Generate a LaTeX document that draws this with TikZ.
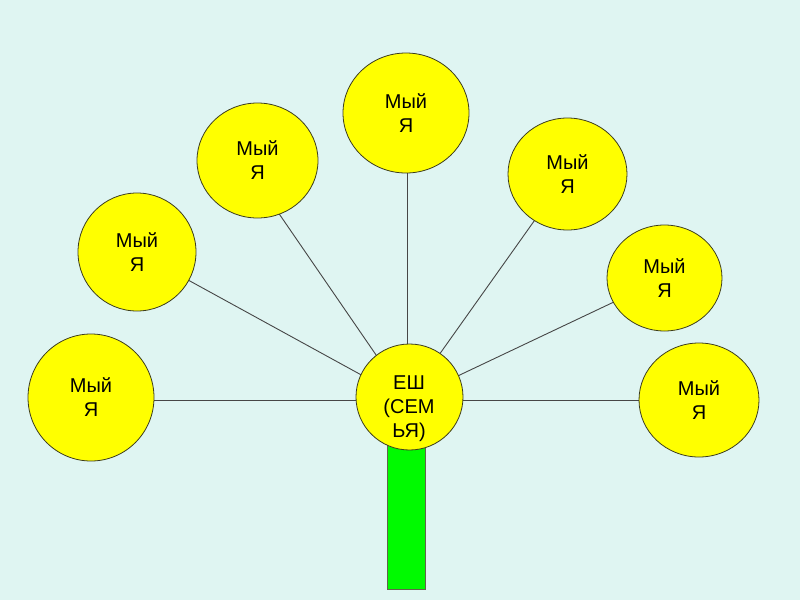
\documentclass[tikz,border=0pt]{standalone}
\usepackage{fontspec}
\setmainfont{Liberation Sans}
\usetikzlibrary{shapes.geometric,backgrounds}
\definecolor{bgc}{RGB}{223,245,242}
\definecolor{petal}{RGB}{255,255,0}
\definecolor{stemc}{RGB}{0,250,0}
\definecolor{linec}{RGB}{70,70,70}
\definecolor{edgec}{RGB}{60,60,30}
\tikzset{
  petalnode/.style={ellipse, draw=edgec, line width=0.8pt, fill=petal, inner sep=0pt, align=center, font=\fontsize{20}{24}\selectfont},
  conn/.style={draw=linec, line width=0.9pt},
  txt/.style={align=center, inner sep=0pt, font=\fontsize{20}{24}\selectfont}
}
\begin{document}
\begin{tikzpicture}[x=1pt,y=-1pt]
\useasboundingbox (0,0) rectangle (800,600);
% centre
\node[petalnode, minimum width=107pt, minimum height=106pt] (c) at (409.5,397) {};
\node[txt] (ct) at (409,409) {ЕШ\\(СЕМ\\ЬЯ)};
% petals
\node[petalnode, minimum width=126pt, minimum height=127pt] (m1) at (91,397.5) {Мый\\Я};
\node[petalnode, minimum width=118pt, minimum height=118pt] (m2) at (137,252) {Мый\\Я};
\node[petalnode, minimum width=121pt, minimum height=115pt] (m3) at (257.5,160.5) {Мый\\Я};
\node[petalnode, minimum width=126pt, minimum height=120pt] (m4) at (406,113) {Мый\\Я};
\node[petalnode, minimum width=119pt, minimum height=112pt] (m5) at (567.5,174) {Мый\\Я};
\node[petalnode, minimum width=115pt, minimum height=106pt] (m6) at (664.5,278) {Мый\\Я};
\node[petalnode, minimum width=120pt, minimum height=114pt] (m7) at (699,400) {Мый\\Я};
% hub where the connectors meet (hidden under the centre)
\coordinate (hub) at (407,400);
\begin{scope}[on background layer]
  \fill[bgc] (0,0) rectangle (800,600);
  \draw[fill=stemc, draw=edgec!80, line width=0.8pt] (387,430) rectangle (425,589);
  \draw[conn] (hub) -- (hub -| m1.east);
  \draw[conn] (hub) -- (m2.center);
  \draw[conn] (hub) -- ([xshift=-15pt]m3.center);
  \draw[conn] (hub) -- (hub |- m4.south);
  \draw[conn] (hub) -- (m5.center);
  \draw[conn] (hub) -- (m6.center);
  \draw[conn] (hub) -- (hub -| m7.west);
\end{scope}
\end{tikzpicture}
\end{document}
